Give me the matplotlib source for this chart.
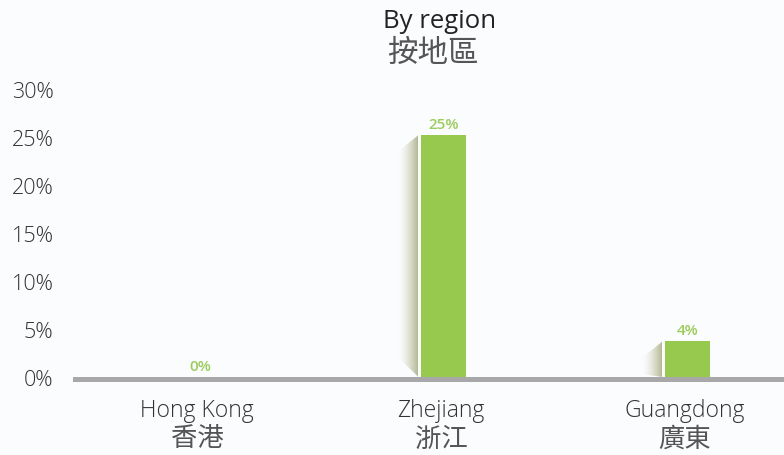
import matplotlib
matplotlib.use('Agg')
from matplotlib import pyplot as plt
from matplotlib.colors import LinearSegmentedColormap
from matplotlib.patches import Polygon
import numpy as np

regions_en = ['Hong Kong', 'Zhejiang', 'Guangdong']
regions_zh = ['香港', '浙江', '廣東']
shares = [0, 25.2, 3.7]
yticks = [0, 5, 10, 15, 20, 25, 30]

fonts = ['Open Sans', 'Noto Sans CJK TC', 'DejaVu Sans']
cjk = ['Noto Sans CJK TC', 'DejaVu Sans']
plt.rcParams['font.family'] = fonts

bg = '#fbfcfe'
green = '#97c94e'
label_green = '#9ccc5c'
shade = '#b4b893'
grey = '#a8a8ab'
text_col = '#333333'
cjk_col = '#555555'

W, H = 784, 456
fig = plt.figure(figsize=(W / 100, H / 100), dpi=100, facecolor=bg)
ax = fig.add_axes([73 / W, 73 / H, 711 / W, 293 / H], facecolor=bg)

x = np.arange(len(shares))
ax.set_xlim(-0.508, 2.406)
ax.set_ylim(-0.52, 30)

# pixel sizes in data units
px_x = (2.406 + 0.508) / 711
px_y = (30 + 0.52) / 293

bar_w = 45 * px_x
bar_x = x + 3 * px_x
ax.bar(bar_x, shares, width=bar_w, color=green, zorder=3)

# fading side face to the left of each bar
cmap = LinearSegmentedColormap.from_list('side', [bg, shade])
grad = np.linspace(0, 1, 256).reshape(1, -1) ** 1.6
for bx, v in zip(bar_x, shares):
    if v <= 0:
        continue
    right = bx - bar_w / 2 - 3 * px_x
    left = right - 20 * px_x
    top_drop = 16 * px_y
    bottom_rise = v * 0.08
    poly = Polygon([(right, v), (left, v - top_drop), (left, bottom_rise), (right, 0)],
                   closed=True, facecolor='none', edgecolor='none')
    ax.add_patch(poly)
    im = ax.imshow(grad, cmap=cmap, aspect='auto', extent=[left, right, 0, v],
                   zorder=2, interpolation='bilinear')
    im.set_clip_path(poly)

ax.axhspan(-0.52, 0, color=grey, zorder=4, lw=0)

for bx, v in zip(bar_x, shares):
    ax.annotate(f'{v:.0f}%', (bx, v), xytext=(0, 3), textcoords='offset points',
                ha='center', va='bottom', fontsize=11, color=label_green, fontweight='semibold')

ax.set_yticks(yticks)
ax.set_yticklabels([f'{t}%' for t in yticks], fontsize=15.5, color=text_col, fontweight='light')
ax.tick_params(axis='y', length=0, pad=14)
ax.set_xticks([])
for s in ax.spines.values():
    s.set_visible(False)

# two-line category labels, english over chinese
for xi, en, zh in zip(x, regions_en, regions_zh):
    ax.annotate(en, (xi, 0), xycoords=('data', 'axes fraction'), xytext=(0, -28),
                textcoords='offset pixels', ha='center', va='center',
                fontsize=16.5, color=text_col, fontweight='light')
    ax.annotate(zh, (xi, 0), xycoords=('data', 'axes fraction'), xytext=(0, -56),
                textcoords='offset pixels', ha='center', va='center',
                fontsize=19, color=cjk_col, family=cjk, fontweight='light')

fig.text(440 / W, 1 - 21 / H, 'By region', ha='center', va='center', fontsize=18.5,
         color='#222222', fontweight='normal')
fig.text(433 / W, 1 - 53 / H, '按地區', ha='center', va='center', fontsize=22,
         color=cjk_col, family=cjk, fontweight='light')

plt.savefig('out.png', dpi=100, facecolor=bg)
plt.close()
